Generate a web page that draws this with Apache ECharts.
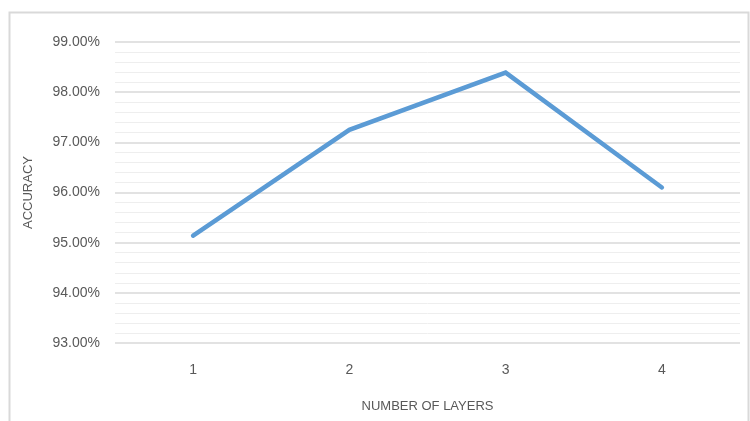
<!DOCTYPE html>
<html>
<head>
<meta charset="utf-8">
<script src="https://cdn.jsdelivr.net/npm/echarts@6/dist/echarts.min.js"></script>
<style>
  html, body { margin: 0; padding: 0; background: #ffffff; }
  #chart { width: 750px; height: 421px; }
</style>
</head>
<body>
<div id="chart"></div>
<script>
// Accuracy by number of layers
const layers = ['1', '2', '3', '4'];
const accuracy = [95.14, 97.25, 98.39, 96.10];
const yMin = 93;
const yMax = 99;
const yStep = 1;

const chart = echarts.init(document.getElementById('chart'), null, { renderer: 'canvas' });

const textColor = '#595959';
const fontFamily = '"Liberation Sans", Arial, sans-serif';

chart.setOption({
  backgroundColor: '#ffffff',
  animation: false,
  graphic: [{
    type: 'rect',
    shape: { x: 9.5, y: 12.5, width: 739, height: 420 },
    style: { fill: 'none', stroke: '#d9d9d9', lineWidth: 2 },
    silent: true
  }],
  grid: { left: 115, right: 10, top: 42, bottom: 78 },
  xAxis: {
    type: 'category',
    data: layers,
    boundaryGap: true,
    name: 'NUMBER OF LAYERS',
    nameLocation: 'middle',
    nameGap: 57,
    nameTextStyle: { color: textColor, fontSize: 13, fontFamily: fontFamily },
    axisLine: { show: false },
    axisTick: { show: false },
    axisLabel: { color: textColor, fontSize: 14, fontFamily: fontFamily, margin: 20 }
  },
  yAxis: {
    type: 'value',
    min: yMin,
    max: yMax,
    interval: yStep,
    name: 'ACCURACY',
    nameLocation: 'middle',
    nameGap: 80,
    nameRotate: 90,
    nameTextStyle: { color: textColor, fontSize: 13, fontFamily: fontFamily },
    axisLine: { show: false },
    axisTick: { show: false },
    axisLabel: {
      color: textColor, fontSize: 14, fontFamily: fontFamily, margin: 15,
      formatter: v => v.toFixed(2) + '%'
    },
    splitLine: { show: true, lineStyle: { color: '#d9d9d9', width: 1.5 } },
    minorTick: { show: false, splitNumber: 5 },
    minorSplitLine: { show: true, lineStyle: { color: '#eeeeee', width: 1 } }
  },
  series: [{
    type: 'line',
    data: accuracy,
    symbol: 'none',
    lineStyle: { color: '#5b9bd5', width: 4.5, cap: 'round', join: 'miter' },
    itemStyle: { color: '#5b9bd5' }
  }]
});
</script>
</body>
</html>
